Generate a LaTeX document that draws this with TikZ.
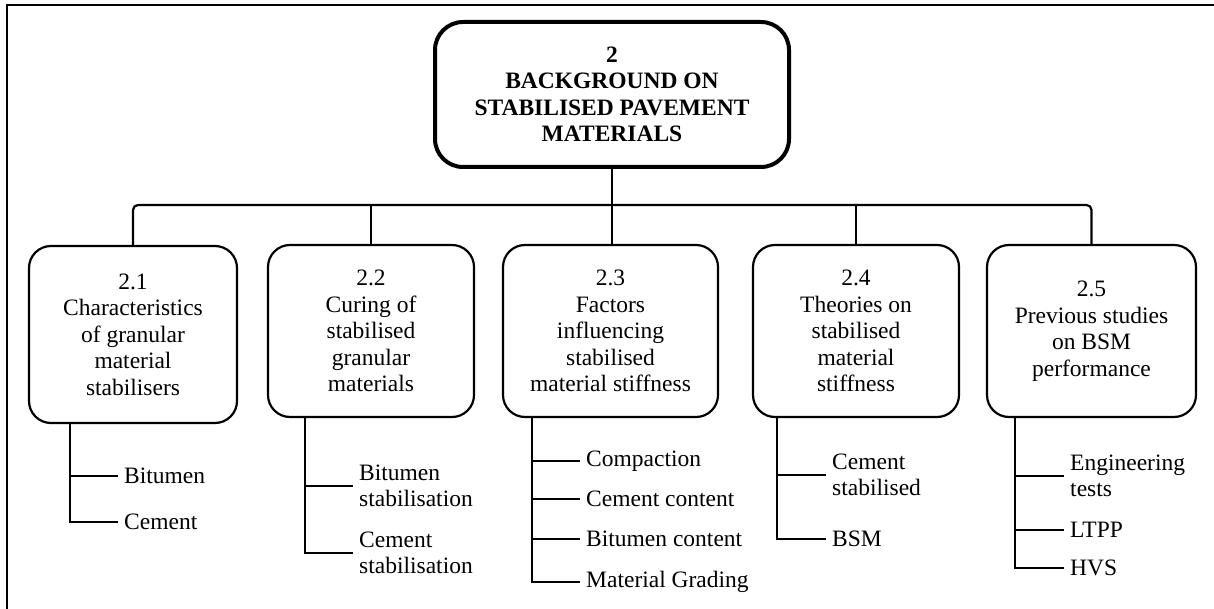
\documentclass[tikz,border=0pt]{standalone}
\usepackage{fontspec}
\setmainfont{Liberation Serif}
\begin{document}
\begin{tikzpicture}[x=1pt,y=-1pt,
  txtfont/.style={font=\fontsize{23.5}{26.5}\selectfont},
  mainbox/.style={draw, line width=4pt, rounded corners=28pt, inner sep=0pt,
    align=center, font=\bfseries\fontsize{23.5}{26.5}\selectfont},
  secbox/.style={draw, line width=2.2pt, rounded corners=22pt, inner sep=0pt,
    align=center, txtfont},
  conn/.style={line width=2.5pt},
  item/.style={anchor=west, inner xsep=6pt, inner ysep=0pt, align=left, txtfont}]
\useasboundingbox (0,0) rectangle (1214,609);
% partial outer frame
\draw[line width=2.2pt] (1214,5) -- (7,5) -- (7,609);

% main box
\node[mainbox, minimum width=354pt, minimum height=145pt] (main) at (612,94.5)
  {2\\BACKGROUND ON\\STABILISED PAVEMENT\\MATERIALS};

% section boxes
\node[secbox, minimum width=208pt, minimum height=177pt] (b1) at (133,334.5)
  {2.1\\Characteristics\\of granular\\material\\stabilisers};
\node[secbox, minimum width=206pt, minimum height=172pt] (b2) at (371,331)
  {2.2\\Curing of\\stabilised\\granular\\materials};
\node[secbox, minimum width=215pt, minimum height=172pt] (b3) at (610.5,331)
  {2.3\\Factors\\influencing\\stabilised\\material stiffness};
\node[secbox, minimum width=206pt, minimum height=172pt] (b4) at (856,331)
  {2.4\\Theories on\\stabilised\\material\\stiffness};
\node[secbox, minimum width=209pt, minimum height=172pt] (b5) at (1091.5,331)
  {2.5\\Previous studies\\on BSM\\performance};

% top-level connectors
\coordinate (bar) at (0,205);
\draw[line width=2.2pt, rounded corners=5pt] (b1.north) -- (b1.north |- bar) -- (b5.north |- bar) -- (b5.north);
\draw[line width=2.2pt] (main.south) -- (main.south |- b3.north);
\draw[line width=2.2pt] (b2.north) -- (b2.north |- bar);
\draw[line width=2.2pt] (b4.north) -- (b4.north |- bar);

% trunks
\path (b1.south west) ++(42,0) coordinate (t1);
\path (b2.south west) ++(38,0) coordinate (t2);
\path (b3.south west) ++(30,0) coordinate (t3);
\path (b4.south west) ++(25,0) coordinate (t4);
\path (b5.south west) ++(29,0) coordinate (t5);

% group 1
\node[item] (i11) at (118,476) {Bitumen};
\node[item] (i12) at (118,522) {Cement};
\draw[conn] (t1) |- (i11.west);
\draw[conn] (t1) |- (i12.west);

% group 2
\node[item] (i21) at (353,486) {Bitumen\\stabilisation};
\node[item] (i22) at (353,553) {Cement\\stabilisation};
\draw[conn] (t2) |- (i21.west);
\draw[conn] (t2) |- (i22.west);

% group 3
\node[item] (i31) at (580,461) {Compaction};
\node[item] (i32) at (580,499) {Cement content};
\node[item] (i33) at (580,539) {Bitumen content};
\node[item] (i34) at (580,582) {Material Grading};
\draw[conn] (t3) |- (i31.west);
\draw[conn] (t3) |- (i32.west);
\draw[conn] (t3) |- (i33.west);
\draw[conn] (t3) |- (i34.west);

% group 4
\node[item] (i41) at (826,475) {Cement\\stabilised};
\node[item] (i42) at (826,539) {BSM};
\draw[conn] (t4) |- (i41.west);
\draw[conn] (t4) |- (i42.west);

% group 5
\node[item] (i51) at (1064,476) {Engineering\\tests};
\node[item] (i52) at (1064,530) {LTPP};
\node[item] (i53) at (1064,568) {HVS};
\draw[conn] (t5) |- (i51.west);
\draw[conn] (t5) |- (i52.west);
\draw[conn] (t5) |- (i53.west);
\end{tikzpicture}
\end{document}
